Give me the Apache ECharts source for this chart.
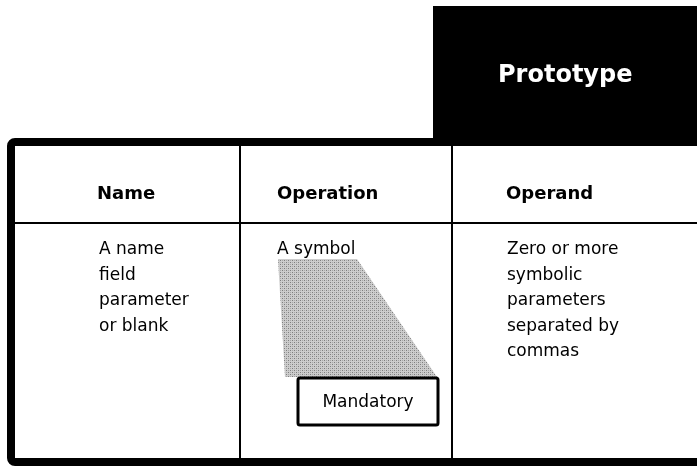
<!DOCTYPE html>
<html>
<head>
<meta charset="utf-8">
<style>html,body{margin:0;padding:0;background:#fff;}#c{width:697px;height:466px;}</style>
<script src="https://cdn.jsdelivr.net/npm/echarts@6/dist/echarts.min.js"></script>
</head>
<body>
<div id="c"></div>
<script>
var title = 'Prototype';
var headers = ['Name', 'Operation', 'Operand'];
var nameCell = ['A name', 'field', 'parameter', 'or blank'];
var operationCell = ['A symbol'];
var operandCell = ['Zero or more', 'symbolic', 'parameters', 'separated by', 'commas'];
var badge = 'Mandatory';

var colX = [97, 277, 506];
var bodyX = [99, 277, 507];
var cells = [nameCell, operationCell, operandCell];

function makePattern() {
  var cv = document.createElement('canvas');
  cv.width = 4; cv.height = 4;
  var ctx = cv.getContext('2d');
  ctx.fillStyle = '#cdcdcd';
  ctx.fillRect(0, 0, 4, 4);
  ctx.fillStyle = '#7e7e7e';
  ctx.fillRect(0, 0, 1, 1);
  ctx.fillRect(2, 2, 1, 1);
  ctx.fillStyle = '#a8a8a8';
  ctx.fillRect(2, 0, 1, 1);
  ctx.fillRect(0, 2, 1, 1);
  return cv;
}

var g = [];
// black title block
g.push({type: 'rect', shape: {x: 433, y: 6, width: 280, height: 140}, style: {fill: '#000'}, z: 1});
g.push({type: 'text', x: 498, y: 76, style: {text: title, fill: '#fff', font: 'bold 24px "DejaVu Sans"', textAlign: 'left', textVerticalAlign: 'middle'}, z: 5});
// outer frame
g.push({type: 'rect', shape: {x: 11, y: 142, width: 700, height: 320, r: 4}, style: {fill: 'none', stroke: '#000', lineWidth: 8}, z: 3});
// header separator
g.push({type: 'line', shape: {x1: 11, y1: 223, x2: 697, y2: 223}, style: {stroke: '#000', lineWidth: 2}, z: 3});
// column dividers
g.push({type: 'line', shape: {x1: 240, y1: 146, x2: 240, y2: 458}, style: {stroke: '#000', lineWidth: 2}, z: 3});
g.push({type: 'line', shape: {x1: 452, y1: 146, x2: 452, y2: 458}, style: {stroke: '#000', lineWidth: 2}, z: 3});
// headers
headers.forEach(function (h, i) {
  g.push({type: 'text', x: colX[i], y: 194, style: {text: h, fill: '#000', font: 'bold 18px "DejaVu Sans"', textAlign: 'left', textVerticalAlign: 'middle'}, z: 5});
});
// shaded trapezoid
g.push({type: 'polygon', shape: {points: [[278, 259], [357, 259], [437, 377], [285, 377]]}, style: {fill: {image: makePattern(), repeat: 'repeat'}}, z: 2});
// body text
cells.forEach(function (lines, i) {
  lines.forEach(function (t, j) {
    g.push({type: 'text', x: bodyX[i], y: 250 + j * 25.5, style: {text: t, fill: '#000', font: '17px "DejaVu Sans"', textAlign: 'left', textVerticalAlign: 'middle'}, z: 5});
  });
});
// mandatory box
g.push({type: 'rect', shape: {x: 298, y: 378, width: 140, height: 47, r: 2}, style: {fill: '#fff', stroke: '#000', lineWidth: 3}, z: 4});
g.push({type: 'text', x: 368, y: 403, style: {text: badge, fill: '#000', font: '17px "DejaVu Sans"', textAlign: 'center', textVerticalAlign: 'middle'}, z: 5});

var chart = echarts.init(document.getElementById('c'), null, {renderer: 'canvas'});
chart.setOption({backgroundColor: '#fff', animation: false, graphic: {elements: g}});
</script>
</body>
</html>
